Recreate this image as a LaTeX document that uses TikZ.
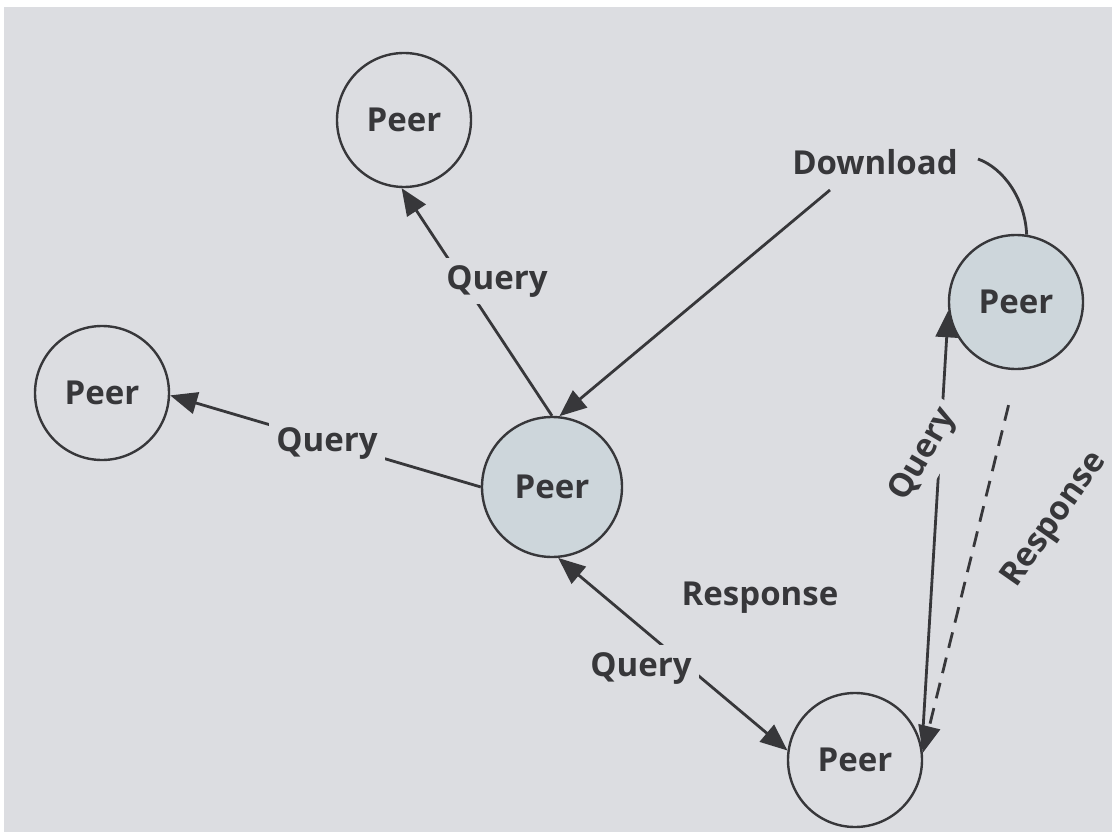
\documentclass[tikz,border=0pt]{standalone}
\usepackage{fontspec}
\setmainfont{Open Sans}
\usetikzlibrary{arrows.meta}
\definecolor{bg}{RGB}{220,221,225}
\definecolor{shade}{RGB}{205,214,219}
\definecolor{ink}{RGB}{55,55,58}
\tikzset{
  peer/.style={circle, draw=ink, line width=2.4pt, minimum size=134pt, inner sep=0pt,
    fill=bg, text=ink, font=\fontsize{33}{37}\selectfont\bfseries},
  hot/.style={peer, fill=shade},
  lbl/.style={text=ink, font=\fontsize{33}{37}\selectfont\bfseries, inner sep=0pt},
  onlbl/.style={lbl, fill=bg, inner sep=7pt},
  conn/.style={draw=ink, line width=2.8pt},
  arr/.style={conn, -{Triangle[length=27pt,width=22pt]}}
}
\begin{document}
\begin{tikzpicture}[x=1pt,y=-1pt]
\useasboundingbox (0,0) rectangle (1112,832);
\fill[white] (0,0) rectangle (1112,832);
\fill[bg] (4,7) rectangle (1112,832);

\node[peer] (top) at (404,120) {Peer};
\node[peer] (left) at (102,393) {Peer};
\node[hot, minimum size=140pt] (center) at (552,487) {Peer};
\node[hot] (right) at (1016,302) {Peer};
\node[peer] (bottom) at (855,760) {Peer};

% Query center -> top
\draw[arr] (center.90) -- (top.268);
\node[onlbl] (q1) at (497,281) {Query};
% Query center -> left
\draw[arr] (center.180) -- (left.358);
\node[onlbl] (q2) at (327,443) {Query};

% Download
\coordinate (dA) at (830,190);
\coordinate (dB) at (978,159);
\draw[arr] (dA) -- (center.84);
\draw[conn] (dB) .. controls (1003,168) and (1025,198) .. (right.81);
\node[lbl] (dl) at (875,162) {Download};

% Query / Response center <-> bottom
\draw[conn, {Triangle[length=27pt,width=22pt]}-{Triangle[length=27pt,width=22pt]}] (center.275) -- (bottom.172);
\node[onlbl] (q3) at (641,668) {Query};
\node[lbl] (r1) at (760,598) {Response};

% Query bottom -> right
\draw[arr] (bottom.11) -- (right.187);
\node[onlbl, rotate=60] (q4) at (924,455) {Query};

% Response right -> bottom (dashed)
\draw[arr, dash pattern=on 16pt off 10pt, shorten <=36pt] (right.271) -- (bottom.6);
\node[lbl, rotate=55] (r2) at (1055,520) {Response};
\end{tikzpicture}
\end{document}
